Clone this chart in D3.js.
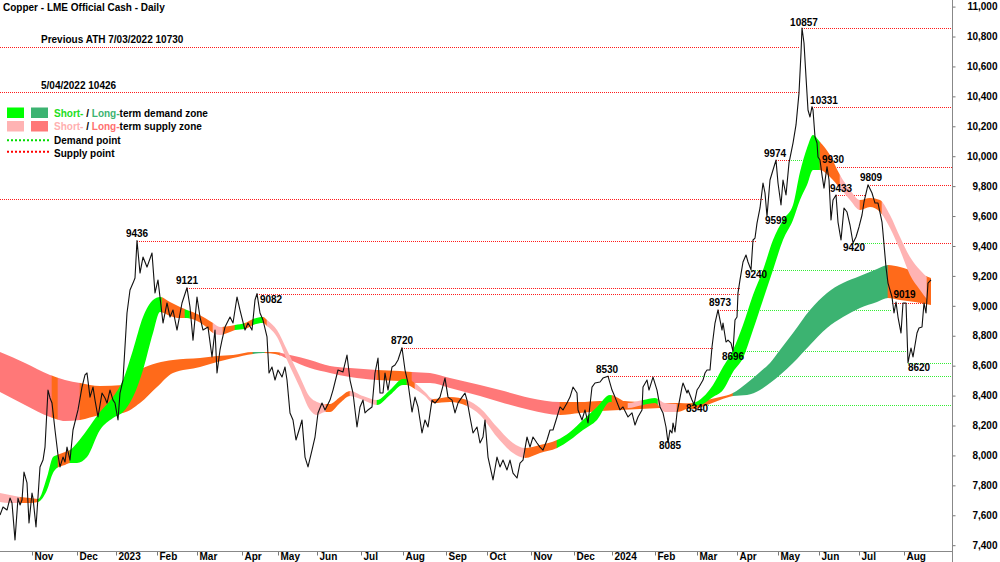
<!DOCTYPE html>
<html><head><meta charset="utf-8">
<script src="https://cdnjs.cloudflare.com/ajax/libs/d3/7.8.5/d3.min.js"></script>
<style>
html,body{margin:0;padding:0;background:#fff;}
svg{display:block;font-family:"Liberation Sans",Arial,sans-serif;}
</style></head><body>
<svg id="chart" width="1000" height="562"></svg>
<script>
// ---------------- DATA ----------------
const chartTitle = "Copper - LME Official Cash - Daily";
const monthLabels = ["Nov","Dec","2023","Feb","Mar","Apr","May","Jun","Jul","Aug","Sep","Oct","Nov","Dec","2024","Feb","Mar","Apr","May","Jun","Jul","Aug"];
const monthDays = [16,38.5,58,78.5,98.5,121,139,158.5,180.5,201.5,223,243.5,265.5,287,306,327.5,348.5,368.5,389,409.5,429.5,452];
const yTickValues = [7400,7600,7800,8000,8200,8400,8600,8800,9000,9200,9400,9600,9800,10000,10200,10400,10600,10800,11000];

const priceDays = [0,1.5,3.5,5,6,7.5,9,10,11,12,13.5,14.5,16,16.5,18,19,20,21.5,22.5,24,25,26,27.5,29,30,31.5,32.5,33.5,35,36.5,39,41,42.5,43.5,45,46.5,47.5,49,51,52.5,53.5,55,56.5,57.5,59,60,61.5,63.5,65,66.5,67.5,68.5,70,71.5,73.5,76,77.5,79,81.5,83.5,85,86.5,88.5,91,93.5,95,96.5,98.5,100,101.5,104,106,107.5,108.5,110,111,112.5,115,116.5,118.5,120,122.5,124,126,127.5,128.5,130,131.5,133.5,134.5,136,137.5,139,141,142.5,143.5,145,146.5,148,150,151,152.5,154,156,157.5,159,161,162.5,165,166.5,169,171.5,173.5,175,176.5,178.5,180,181.5,182.5,184,186,187.5,189,190,191.5,192.5,194,196,197.5,199,201,202.5,204,206,207.5,209,211,212.5,214,216,217.5,220,222.5,224,226,227.5,229,231,232.5,233.5,235,236.5,238.5,240,241.5,242.5,244,246.5,248.5,250,251.5,253.5,255,256.5,258.5,260,261.5,263.5,265,266.5,268.5,270,271.5,273.5,275,276.5,278.5,280,281.5,283.5,285,286.5,288.5,289,291,292.5,294,296,297.5,300,301.5,304,306,307.5,310,311.5,314,316,317.5,319,321,321.5,323.5,324.5,326.5,328.5,330,331.5,333,334,335,336,336.5,337.5,338.5,339.5,341,341.5,343.5,344,346,347,348.5,349.5,351.5,352.5,353.5,355,356,357.5,359,361,361.5,363,364,365.5,366.5,367.5,368.5,369,370,371.5,373,374,375.5,376.5,377.5,378.5,380,381.5,382.5,383.5,385,386.5,388,389,390.5,391.5,393,394.5,396.5,398,399.5,400.5,401,402,403,404,405,406,406.5,407.5,408.5,409,410,411,412,413.5,414.5,415.5,416.5,418,419,420.5,422,423.5,425,426.5,428,429.5,431,432,434,436,437.5,439,441,441.5,443,444,446,447,448,449,450.5,451.5,453,454,455.5,456.5,458.5,459.5,461,462,463,464,465.5];
const priceValues = [7602,7655,7635,7715,7682,7435,7715,7669,7702,7889,7816,7548,7749,7715,7522,7722,7923,7969,8056,8437,8384,8350,8170,8003,7923,7989,7956,8056,7969,8170,8304,8457,8538,8551,8390,8457,8370,8257,8417,8384,8350,8437,8370,8350,8237,8417,8504,8952,9106,9152,9186,9436,9219,9326,9259,9353,9086,9173,8885,9019,8925,8972,8838,9019,9121,8992,8771,9059,8925,8838,8858,8658,8838,8551,8705,8771,8858,8925,8885,9059,8972,8838,8885,8838,9039,9082,8952,8905,8792,8551,8591,8504,8571,8524,8591,8504,8284,8237,8103,8190,8237,7989,7923,8036,8123,8284,8350,8304,8370,8437,8571,8558,8671,8504,8417,8190,8324,8370,8284,8304,8324,8551,8651,8417,8417,8551,8437,8591,8604,8638,8720,8571,8484,8290,8390,8324,8150,8237,8190,8370,8350,8390,8517,8390,8370,8284,8350,8390,8417,8370,8257,8150,8190,8083,8123,8237,7989,7836,7989,7923,7969,7903,7969,7882,7849,7949,7969,8123,8056,8123,8083,8056,8036,8103,8170,8170,8257,8324,8304,8350,8390,8457,8417,8304,8237,8304,8217,8457,8484,8491,8517,8530,8437,8390,8304,8324,8257,8284,8203,8257,8304,8457,8504,8437,8524,8437,8324,8284,8190,8085,8170,8150,8217,8157,8284,8350,8457,8484,8417,8437,8370,8340,8437,8457,8504,8551,8571,8571,8725,8885,8973,8838,8885,8758,8771,8751,8696,8905,8925,9086,9173,9293,9340,9293,9240,9440,9453,9553,9654,9821,9754,9599,9841,9908,9974,9821,9674,9841,9741,9955,10088,10209,10422,10690,10857,10757,10529,10309,10262,10331,10309,10128,10088,9995,9975,9874,9787,9930,9841,9574,9707,9741,9560,9440,9654,9627,9540,9420,9460,9527,9607,9694,9809,9754,9687,9687,9560,9487,9259,9152,9059,8952,9025,8925,8818,9019,9019,8620,8718,8658,8818,8852,8858,9019,8952,9152,9173];

// short-term zone (fast band)
const shortDays = [0,5,10,15,19,23.5,26.5,28.5,32.5,35,38.5,43.5,50,56.5,61.5,66.5,71.5,76.5,80,85,90,93.5,97.5,102.5,106.5,110,115,117.5,122.5,126.5,131.5,133.5,138.5,143.5,150,155,158.5,162.5,165,170,175,181.5,188.5,195,201.5,203.5,207.5,212.5,216.5,225,233.5,240,248.5,256.5,262.5,270,278.5,285,291.5,298.5,305,310,314,321.5,327.5,332.5,338.5,346.5,351.5,356.5,361.5,366.5,371.5,376.5,381.5,386.5,391.5,396.5,400,403.5,406.5,410,415,420,425,430,435,440,445,450,455,460,465];
const shortUpper = [7749,7735,7722,7715,7709,7856,7989,8003,8023,8036,8083,8170,8290,8390,8504,8705,8925,9039,9059,9025,8992,8972,8952,8918,8885,8858,8865,8872,8885,8912,8925,8905,8838,8705,8524,8390,8357,8344,8344,8390,8431,8397,8370,8437,8511,8511,8484,8424,8377,8390,8370,8317,8190,8083,8049,8070,8103,8157,8237,8324,8404,8377,8350,8370,8384,8350,8344,8350,8390,8471,8591,8705,8872,9072,9239,9440,9574,9674,9894,10055,10142,10095,10008,9874,9774,9707,9721,9707,9607,9460,9326,9239,9173];
const shortLower = [7689,7682,7682,7682,7689,7769,7882,7916,7936,7949,7949,7989,8170,8250,8290,8390,8571,8818,8959,8932,8918,8918,8905,8865,8818,8805,8825,8838,8845,8872,8885,8865,8792,8638,8451,8304,8270,8290,8290,8350,8397,8370,8337,8404,8471,8471,8444,8397,8350,8357,8330,8270,8123,8016,7983,8016,8049,8103,8170,8237,8357,8337,8317,8337,8350,8290,8290,8330,8344,8390,8437,8558,8651,8838,9039,9239,9440,9574,9707,9807,9908,9908,9861,9787,9707,9640,9660,9627,9520,9373,9206,9106,9019];
const shortSegStart = [0,10,19,29,35,81,92.5,95,106.5,111.5,117.5,122.5,126.5,131.5,133.5,163,175,188.5,203.5,207.5,216.5,233.5,262.5,278.5,306,314,321.5,329,338.5,346.5,410,420,430,441,463.5];
const shortSegEnd   = [10,19,29,35,81,92.5,95,106.5,111.5,117.5,122.5,126.5,131.5,133.5,163,175,188.5,203.5,207.5,216.5,233.5,262.5,278.5,306,314,321.5,329,338.5,346.5,410,420,430,441,463.5,466];
const shortSegZone  = ["ss","or","sd","or","sd","or","sd","or","ss","or","sd","or","sd","or","ss","or","ss","sd","or","ss","or","ss","or","sd","or","ss","sd","ss","or","sd","or","ss","or","ss","or"];

// long-term zone (slow band)
const longDays = [0,12.5,25,32.5,40,50,61.5,70,78.5,86.5,100,108.5,116.5,126.5,131.5,137.5,145,155,165,175,188.5,200,206,215,225,240,250,265,280,290,300,310,320,330,340,346.5,353.5,360,366.5,373.5,380,385,390,396.5,405,413.5,421.5,430,438.5,444,450,457.5,465.5];
const longUpper = [8691,8618,8538,8504,8484,8464,8471,8571,8618,8638,8651,8664,8671,8691,8691,8691,8671,8638,8598,8584,8571,8564,8558,8551,8517,8471,8437,8384,8357,8357,8364,8364,8357,8350,8350,8344,8370,8390,8417,8484,8558,8618,8705,8818,8972,9086,9152,9199,9246,9273,9259,9226,9186];
const longLower = [8424,8337,8257,8230,8237,8270,8284,8350,8457,8551,8591,8624,8651,8678,8685,8678,8638,8584,8551,8524,8504,8497,8484,8484,8451,8397,8357,8304,8270,8284,8297,8304,8310,8317,8324,8310,8337,8370,8397,8404,8437,8484,8538,8618,8738,8852,8925,8985,9025,9052,9039,9025,9005];
const longSegStart = [0,26,29,40,126.5,132.5,140,188.5,206,280,366.5,444];
const longSegEnd   = [26,29,40,126.5,132.5,140,188.5,206,280,366.5,444,466];
const longSegZone  = ["ls","or","ls","or","ld","or","ls","or","ls","or","ld","or"];

// supply / demand point levels
const levelValues = [10730,10426,9714,9436,9121,9082,8720,8530,8530,8973,8973,9974,9974,10857,10331,9930,9741,9809,9420,9420,9019,9240,8696,8620,8340];
const levelStart  = [0,0,0,68.5,93.5,128.5,201,304,350,359,369,388,394.5,401,406,413.5,418,434,426.5,442,446,375.5,366.5,454,347];
const levelEnd    = [400,400,381.5,378,370,370,356.5,350,476,369,446,394.5,409,476,476,476,433,476,442,476,464,443,453.5,476,476];
const levelKind   = ["s","s","s","s","s","s","s","s","d","s","d","s","d","s","s","s","s","s","d","s","s","d","d","d","d"];

// point labels
const annoDays   = [68.5,93.5,128.5,201,304,334,347,359,366.5,375.5,383.5,388,401,406,413.5,418,434,426.5,451.5,454];
const annoValues = [9436,9121,9082,8720,8530,8085,8340,8973,8696,9240,9599,9974,10857,10331,9930,9741,9809,9420,9019,8620];
const annoTexts  = ["9436","9121","9082","8720","8530","8085","8340","8973","8696","9240","9599","9974","10857","10331","9930","9433","9809","9420","9019","8620"];
const annoDx = [0,0,14,0,-1,2,3,2,0,5,9,-1,2,12,6,5,3,1,1.5,11];
const annoDy = [-7,-7,5.5,-7.7,-7,3,3.5,-7.3,5,4.5,4.5,-7,-5.5,-6.5,-7,-6,-7,4.5,-8,5];

// reference notes
const noteTexts  = ["Previous ATH 7/03/2022 10730","5/04/2022 10426"];
const noteValues = [10730,10426];
const noteDay = 20.5;

// ---------------- DRAW ----------------
const zoneColor = {sd:"#00ff00", ld:"#3cb371", ss:"#ffb3b3", ls:"#ff7878", or:"#ff6a1a"};
const supplyColor = "#ff1a1a", demandColor = "#33ee33";
const plotRight = 952, axisY = 551, H = 562;

const svg = d3.select("#chart");
const defs = svg.append("defs");
const x = d3.scaleLinear().domain([0, 476]).range([0, plotRight]);
const y = d3.scaleLinear().domain([7400, 11000]).range([545.2, 6.6]);

// levels (dotted)
const gl = svg.append("g");
levelValues.forEach((v, i) => {
  const yy = Math.round(y(v)) + 0.5;
  gl.append("line")
    .attr("x1", x(levelStart[i])).attr("x2", x(levelEnd[i]))
    .attr("y1", yy).attr("y2", yy)
    .attr("stroke", levelKind[i] === "s" ? supplyColor : demandColor)
    .attr("stroke-width", 1).attr("stroke-dasharray", "1,1");
});

function drawBand(days, up, lo, sStart, sEnd, sZone, id) {
  const pts = days.map((d, i) => [d, up[i], lo[i]]);
  const area = d3.area().x(d => x(d[0])).y0(d => y(d[2])).y1(d => y(d[1])).curve(d3.curveMonotoneX);
  const dPath = area(pts);
  const g = svg.append("g");
  sStart.forEach((s, i) => {
    const cid = id + i;
    defs.append("clipPath").attr("id", cid).append("rect")
      .attr("x", x(s) - 0.3).attr("width", x(sEnd[i]) - x(s) + 0.6)
      .attr("y", 0).attr("height", H);
    g.append("path").attr("d", dPath).attr("fill", zoneColor[sZone[i]])
      .attr("clip-path", `url(#${cid})`);
  });
}
drawBand(longDays, longUpper, longLower, longSegStart, longSegEnd, longSegZone, "lc");
drawBand(shortDays, shortUpper, shortLower, shortSegStart, shortSegEnd, shortSegZone, "sc");

// price
const line = d3.line().x((d, i) => x(priceDays[i])).y(d => y(d));
svg.append("path").attr("d", line(priceValues))
  .attr("fill", "none").attr("stroke", "#111").attr("stroke-width", 1.1)
  .attr("stroke-linejoin", "round");

// annotations
const ga = svg.append("g").attr("font-size", 10).attr("font-weight", "bold").attr("fill", "#000");
annoTexts.forEach((t, i) => {
  ga.append("text").attr("x", x(annoDays[i]) + annoDx[i]).attr("y", y(annoValues[i]) + annoDy[i])
    .attr("dy", "0.35em").attr("text-anchor", "middle").text(t);
});
noteTexts.forEach((t, i) => {
  ga.append("text").attr("x", x(noteDay)).attr("y", y(noteValues[i]) - 3.5).text(t);
});

// axes
const yAxis = d3.axisRight(y).tickValues(yTickValues).tickFormat(d3.format(",")).tickSize(3).tickSizeOuter(0);
const gy = svg.append("g").attr("transform", `translate(${plotRight + 0.5},0)`).call(yAxis);
gy.select(".domain").remove();
gy.selectAll(".tick line").attr("stroke", "#777");
gy.selectAll(".tick text").attr("x", 45).attr("text-anchor", "end")
  .attr("font-size", 10).attr("font-weight", "bold").attr("fill", "#000")
  .attr("font-family", "Liberation Sans, Arial, sans-serif");

const xAxis = d3.axisBottom(x).tickValues(monthDays).tickFormat((d, i) => monthLabels[i]).tickSize(4).tickSizeOuter(0);
const gx = svg.append("g").attr("transform", `translate(0,${axisY + 0.5})`).call(xAxis);
gx.select(".domain").remove();
gx.selectAll(".tick line").attr("stroke", "#777");
gx.selectAll(".tick text").attr("x", 2).attr("y", 8).attr("dy", null).attr("text-anchor", "start")
  .attr("font-size", 10).attr("font-weight", "bold").attr("fill", "#000")
  .attr("font-family", "Liberation Sans, Arial, sans-serif");

svg.append("line").attr("x1", 0).attr("x2", plotRight).attr("y1", axisY + 0.5).attr("y2", axisY + 0.5).attr("stroke", "#888");
svg.append("line").attr("x1", plotRight + 0.5).attr("x2", plotRight + 0.5).attr("y1", 0).attr("y2", H).attr("stroke", "#888");

// title
svg.append("text").attr("x", 3).attr("y", 10.8).attr("font-size", 10).attr("font-weight", "bold").text(chartTitle);

// legend
const lg = svg.append("g").attr("font-size", 10).attr("font-weight", "bold");
lg.append("rect").attr("x", 7).attr("y", 107.5).attr("width", 17).attr("height", 10.5).attr("fill", zoneColor.sd);
lg.append("rect").attr("x", 31).attr("y", 107.5).attr("width", 17).attr("height", 10.5).attr("fill", zoneColor.ld);
lg.append("rect").attr("x", 7).attr("y", 121).attr("width", 17).attr("height", 10.5).attr("fill", zoneColor.ss);
lg.append("rect").attr("x", 31).attr("y", 121).attr("width", 17).attr("height", 10.5).attr("fill", zoneColor.ls);
lg.append("line").attr("x1", 7).attr("x2", 51).attr("y1", 140.3).attr("y2", 140.3).attr("stroke", "#00dd00").attr("stroke-width", 2).attr("stroke-dasharray", "2,2");
lg.append("line").attr("x1", 7).attr("x2", 51).attr("y1", 151.8).attr("y2", 151.8).attr("stroke", "#ff0000").attr("stroke-width", 2).attr("stroke-dasharray", "2,2");
const t1 = lg.append("text").attr("x", 54).attr("y", 116.5);
t1.append("tspan").attr("fill", "#22dd22").text("Short-");
t1.append("tspan").attr("fill", "#000").text(" / ");
t1.append("tspan").attr("fill", "#3cb371").text("Long-");
t1.append("tspan").attr("fill", "#000").text("term demand zone");
const t2 = lg.append("text").attr("x", 54).attr("y", 130);
t2.append("tspan").attr("fill", "#ffb0b0").text("Short-");
t2.append("tspan").attr("fill", "#000").text(" / ");
t2.append("tspan").attr("fill", "#ff6f6f").text("Long-");
t2.append("tspan").attr("fill", "#000").text("term supply zone");
lg.append("text").attr("x", 54).attr("y", 143.8).text("Demand point");
lg.append("text").attr("x", 54).attr("y", 156.8).text("Supply point");
</script>
</body></html>
